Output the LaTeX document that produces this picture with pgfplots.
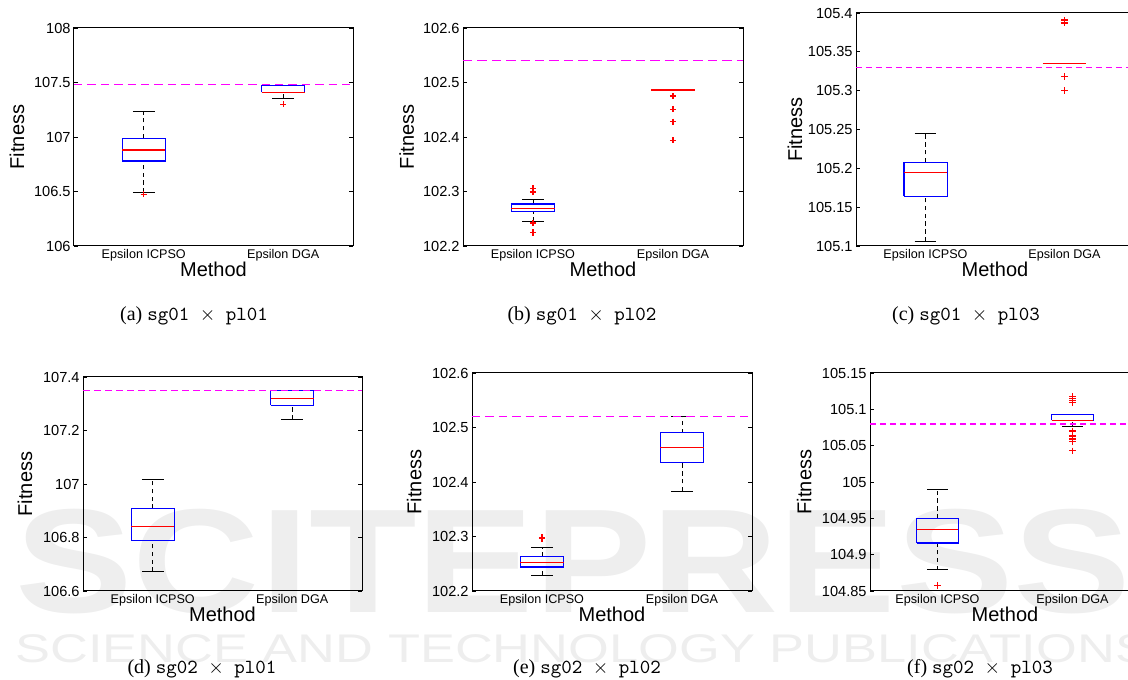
\documentclass[border=0pt]{standalone}
\usepackage{fontspec}
\setmainfont{Liberation Sans}
\newfontfamily\capserif{Liberation Serif}
\usepackage{pgfplots}
\pgfplotsset{compat=1.18}
\definecolor{mblue}{RGB}{0,0,255}
\definecolor{mred}{RGB}{255,0,0}
\definecolor{mmag}{RGB}{255,0,255}
\definecolor{wmark}{RGB}{238,238,238}

\pgfplotsset{
  bxp/.style={
    scale only axis,
    anchor=north west,
    xmin=0.5, xmax=2.5,
    xtick={1,2},
    xticklabels={Epsilon ICPSO, Epsilon DGA},
    xtick style={draw=none},
    ytick pos=both,
    yticklabel pos=left,
    tick align=inside,
    major tick length=2pt,
    ytick style={black, line width=0.4pt},
    axis line style={black, line width=0.5pt},
    /pgf/number format/assume math mode=true,
    yticklabel style={font=\fontsize{7.3}{8}\selectfont, inner sep=1.5pt},
    xticklabel style={font=\fontsize{6.3}{7}\selectfont, inner sep=1.5pt},
    label style={font=\fontsize{8}{9}\selectfont},
    xlabel={Method}, ylabel={Fitness},
    every axis x label/.style={at={(axis description cs:0.5,0)}, anchor=center, yshift=-11.5pt},
    every axis y label/.style={rotate=90, anchor=center},
  },
  boxln/.style={mblue, line width=0.55pt, mark=none},
  medln/.style={mred, line width=0.6pt, mark=none},
  whln/.style={black, line width=0.45pt, dash pattern=on 2.2pt off 1.7pt, mark=none},
  capln/.style={black, line width=0.5pt, mark=none},
  outl/.style={mred, only marks, mark=+, mark size=1.6pt, mark options={solid, mred, line width=0.65pt}},
  refl/.style={mmag, line width=0.65pt, dash pattern=on 4.2pt off 2.5pt},
}
% box at x = 1 : lower whisker, lower quartile, median, upper quartile, upper whisker
\newcommand{\bxone}[5]{%
  \addplot[whln] coordinates {(1,#4) (1,#5)};
  \addplot[whln] coordinates {(1,#1) (1,#2)};
  \addplot[capln] coordinates {(0.9225,#5) (1.0775,#5)};
  \addplot[capln] coordinates {(0.9225,#1) (1.0775,#1)};
  \addplot[boxln] coordinates {(0.845,#2) (1.155,#2) (1.155,#4) (0.845,#4) (0.845,#2)};
  \addplot[medln] coordinates {(0.845,#3) (1.155,#3)};
}
% box at x = 2
\newcommand{\bxtwo}[5]{%
  \addplot[whln] coordinates {(2,#4) (2,#5)};
  \addplot[whln] coordinates {(2,#1) (2,#2)};
  \addplot[capln] coordinates {(1.9225,#5) (2.0775,#5)};
  \addplot[capln] coordinates {(1.9225,#1) (2.0775,#1)};
  \addplot[boxln] coordinates {(1.845,#2) (2.155,#2) (2.155,#4) (1.845,#4) (1.845,#2)};
  \addplot[medln] coordinates {(1.845,#3) (2.155,#3)};
}
% collapsed box at x = 2 (all five values equal)
\newcommand{\bxflat}[1]{%
  \addplot[boxln] coordinates {(1.845,#1) (2.155,#1)};
  \addplot[medln, line width=0.7pt] coordinates {(1.845,#1) (2.155,#1)};
}

\begin{document}
\begin{tikzpicture}
\path[use as bounding box] (0pt,0pt) rectangle (564pt,339.5pt);
% watermark
\node[anchor=base west, text=wmark, font=\fontsize{74}{74}\selectfont\bfseries, xscale=1.19, inner sep=0pt] at (7.5pt,33pt) {SCITEPRESS};
\node[anchor=base west, text=wmark, font=\fontsize{20}{20}\selectfont, xscale=1.31, inner sep=0pt] at (7.5pt,8.5pt) {SCIENCE AND TECHNOLOGY PUBLICATIONS};

% (a)
\begin{axis}[bxp, at={(37pt,325.5pt)}, width=139.5pt, height=109pt,
  ymin=106, ymax=108, ytick={106,106.5,107,107.5,108}, yticklabels={106,106.5,107,107.5,108},
  ylabel style={at={(axis description cs:-0.204,0.5)}}]
\bxone{106.49}{106.78}{106.88}{106.99}{107.23}
\addplot[outl] coordinates {(1,106.475)};
\bxtwo{107.35}{107.41}{107.41}{107.47}{107.47}
\addplot[outl] coordinates {(2,107.30)};
\addplot[refl] coordinates {(0.5,107.48) (2.5,107.48)};
\end{axis}

% (b)
\begin{axis}[bxp, at={(231.5pt,325.5pt)}, width=140pt, height=109pt,
  ymin=102.2, ymax=102.6, ytick={102.2,102.3,102.4,102.5,102.6}, yticklabels={102.2,102.3,102.4,102.5,102.6},
  ylabel style={at={(axis description cs:-0.201,0.5)}}]
\bxone{102.245}{102.263}{102.269}{102.277}{102.285}
\addplot[outl] coordinates {(1,102.306) (1,102.299) (1,102.242) (1,102.225)};
\bxflat{102.486}
\addplot[outl] coordinates {(2,102.475) (2,102.451) (2,102.428) (2,102.394)};
\addplot[refl, dash pattern=on 4.7pt off 2.5pt] coordinates {(0.5,102.54) (2.5,102.54)};
\end{axis}

% (c)
\begin{axis}[bxp, at={(428pt,333pt)}, width=139pt, height=116.5pt,
  ymin=105.1, ymax=105.4, ytick={105.1,105.15,105.2,105.25,105.3,105.35,105.4}, yticklabels={105.1,105.15,105.2,105.25,105.3,105.35,105.4},
  ylabel style={at={(axis description cs:-0.22,0.5)}}]
\bxone{105.106}{105.164}{105.195}{105.208}{105.245}
\bxflat{105.335}
\addplot[outl] coordinates {(2,105.391) (2,105.387) (2,105.318) (2,105.300)};
\addplot[refl, line width=0.55pt, dash pattern=on 2.8pt off 2.2pt] coordinates {(0.5,105.33) (2.5,105.33)};
\end{axis}

% (d)
\begin{axis}[bxp, at={(41.5pt,151pt)}, width=139.5pt, height=107pt,
  ymin=106.6, ymax=107.4, ytick={106.6,106.8,107,107.2,107.4}, yticklabels={106.6,106.8,107,107.2,107.4},
  ylabel style={at={(axis description cs:-0.208,0.5)}}]
\bxone{106.672}{106.788}{106.842}{106.907}{107.016}
\bxtwo{107.241}{107.294}{107.319}{107.350}{107.350}
\addplot[refl, dash pattern=on 3.3pt off 2.2pt] coordinates {(0.5,107.35) (2.5,107.35)};
\end{axis}

% (e)
\begin{axis}[bxp, at={(236pt,153pt)}, width=140pt, height=109pt,
  ymin=102.2, ymax=102.6, ytick={102.2,102.3,102.4,102.5,102.6}, yticklabels={102.2,102.3,102.4,102.5,102.6},
  ylabel style={at={(axis description cs:-0.206,0.5)}}]
\bxone{102.229}{102.244}{102.253}{102.264}{102.279}
\addplot[outl] coordinates {(1,102.296) (1,102.298)};
\bxtwo{102.383}{102.436}{102.463}{102.490}{102.521}
\addplot[refl] coordinates {(0.5,102.52) (2.5,102.52)};
\end{axis}

% (f)
\begin{axis}[bxp, at={(435pt,153pt)}, width=135pt, height=109pt,
  ymin=104.85, ymax=105.15, ytick={104.85,104.9,104.95,105,105.05,105.1,105.15}, yticklabels={104.85,104.9,104.95,105,105.05,105.1,105.15},
  ylabel style={at={(axis description cs:-0.244,0.5)}}]
\bxone{104.879}{104.916}{104.935}{104.950}{104.990}
\addplot[outl] coordinates {(1,104.8575)};
\bxtwo{105.077}{105.085}{105.085}{105.093}{105.093}
\addplot[outl] coordinates {(2,105.118) (2,105.115) (2,105.112) (2,105.109) (2,105.070) (2,105.0635) (2,105.060) (2,105.058) (2,105.0556) (2,105.043)};
\addplot[refl, dash pattern=on 3pt off 2pt] coordinates {(0.5,105.08) (2.5,105.08)};
\end{axis}

% captions
\node[font=\fontsize{10}{12}\selectfont, anchor=center, inner sep=0pt] at (97pt,181.5pt) {\capserif(a) \ttfamily sg01 $\times$ pl01};
\node[font=\fontsize{10}{12}\selectfont, anchor=center, inner sep=0pt] at (291pt,181.5pt) {\capserif(b) \ttfamily sg01 $\times$ pl02};
\node[font=\fontsize{10}{12}\selectfont, anchor=center, inner sep=0pt] at (483pt,181.5pt) {\capserif(c) \ttfamily sg01 $\times$ pl03};
\node[font=\fontsize{10}{12}\selectfont, anchor=center, inner sep=0pt] at (101pt,5pt) {\capserif(d) \ttfamily sg02 $\times$ pl01};
\node[font=\fontsize{10}{12}\selectfont, anchor=center, inner sep=0pt] at (293.5pt,5pt) {\capserif(e) \ttfamily sg02 $\times$ pl02};
\node[font=\fontsize{10}{12}\selectfont, anchor=center, inner sep=0pt] at (490pt,5pt) {\capserif(f) \ttfamily sg02 $\times$ pl03};
\end{tikzpicture}
\end{document}
